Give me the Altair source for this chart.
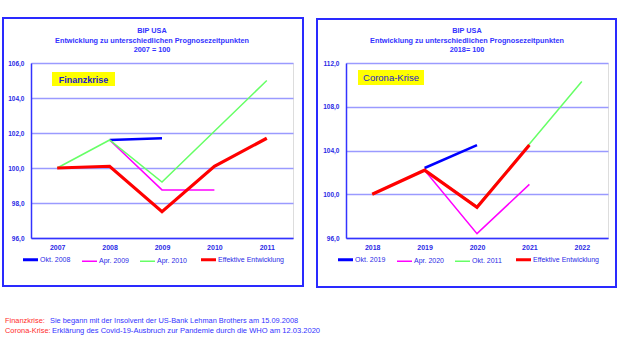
import altair as alt
import pandas as pd

FONT = "Liberation Sans"
BLUE_TXT = "#2a2ae6"
SERIES_COLORS = ["#0000ff", "#ff00ff", "#66ff66", "#ff0000"]
SERIES_WIDTHS = [2.5, 1.5, 1.5, 3.2]

# ---- Finanzkrise ----
years_fin = ["2007", "2008", "2009", "2010", "2011"]
names_fin = ["Okt. 2008", "Apr. 2009", "Apr. 2010", "Effektive Entwicklung"]
okt2008 = [None, 101.6, 101.7, None, None]
apr2009 = [None, 101.6, 98.75, 98.75, None]
apr2010 = [100.0, 101.6, 99.2, 102.1, 105.0]
eff_fin = [100.0, 100.1, 97.5, 100.1, 101.7]
yticks_fin = [96, 98, 100, 102, 104, 106]

# ---- Corona-Krise ----
years_cor = ["2018", "2019", "2020", "2021", "2022"]
names_cor = ["Okt. 2019", "Apr. 2020", "Okt. 2011", "Effektive Entwicklung"]
okt2019 = [None, 102.4, 104.5, None, None]
apr2020 = [None, 102.2, 96.4, 100.9, None]
okt2011 = [100.0, 102.2, 98.9, 104.6, 110.3]
eff_cor = [100.0, 102.2, 98.8, 104.5, None]
yticks_cor = [96, 100, 104, 108, 112]

title_fin = ["BIP USA", "Entwicklung zu unterschiedlichen Prognosezeitpunkten", "2007 = 100"]
title_cor = ["BIP USA", "Entwicklung zu unterschiedlichen Prognosezeitpunkten", "2018= 100"]

foot_red = ["Finanzkrise:", "Corona-Krise:"]
foot_blue = ["Sie begann mit der Insolvent der US-Bank Lehman Brothers am 15.09.2008",
             "Erklärung  des Covid-19-Ausbruch zur Pandemie durch die WHO am 12.03.2020"]

W, H = 262, 175


def long_df(years, names, series):
    rows = []
    for n, w, vals in zip(names, SERIES_WIDTHS, series):
        for y, v in zip(years, vals):
            if v is not None:
                rows.append({"Jahr": y, "Wert": v, "Serie": n, "w": w})
    return pd.DataFrame(rows)


def panel(years, names, series, ydom, yticks, title, box_text, box_bold, box, frame, legend_x, footer=False):
    df = long_df(years, names, series)
    leg = alt.Legend(orient="none", legendX=legend_x, legendY=193, direction="horizontal",
                     columns=4, title=None, symbolType="stroke", symbolSize=225,
                     labelFont=FONT, labelFontSize=7, labelColor=BLUE_TXT,
                     columnPadding=8, labelOffset=6, padding=0,
                     symbolStrokeWidth=alt.ExprRef(
                         expr="datum.index === 0 || datum.index === 3 ? 3 : 1.5"))
    lines = alt.Chart(df).mark_line(strokeCap="butt", strokeJoin="miter").encode(
        x=alt.X("Jahr:N", sort=years, scale=alt.Scale(domain=years), title=None,
                axis=alt.Axis(labelAngle=0, ticks=False, labelPadding=5, labelFont=FONT,
                              labelFontWeight="bold", labelFontSize=7, labelColor=BLUE_TXT,
                              domainColor="#3333ff", domainWidth=1.5, grid=False)),
        y=alt.Y("Wert:Q", scale=alt.Scale(domain=ydom, nice=False, zero=False), title=None,
                axis=alt.Axis(values=yticks, ticks=False, labelPadding=7, labelFont=FONT,
                              labelFontWeight="bold", labelFontSize=6.5, labelColor=BLUE_TXT,
                              labelExpr="replace(format(datum.value, '.1f'), '.', ',')",
                              domainColor="#3333ff", domainWidth=1.5,
                              grid=True, gridColor="#9a9aff", gridWidth=1.5)),
        color=alt.Color("Serie:N", scale=alt.Scale(domain=names, range=SERIES_COLORS), legend=leg),
        strokeWidth=alt.StrokeWidth("w:Q", scale=None, legend=None),
    )
    one = pd.DataFrame({"t": [box_text]})
    fx1, fx2, fy1, fy2 = frame
    border = alt.Chart(one).mark_rect(filled=False, stroke="#2a2aff", strokeWidth=2).encode(
        x=alt.value(fx1), x2=alt.value(fx2), y=alt.value(fy1), y2=alt.value(fy2))
    bx1, bx2, by1, by2 = box
    ybox = alt.Chart(one).mark_rect(fill="#ffff00").encode(
        x=alt.value(bx1), x2=alt.value(bx2), y=alt.value(by1), y2=alt.value(by2))
    btext = alt.Chart(one).mark_text(font=FONT, fontSize=9.5 if not box_bold else 9,
                                     fontWeight="bold" if box_bold else "normal",
                                     color="#2222cc").encode(
        x=alt.value((bx1 + bx2) / 2), y=alt.value((by1 + by2) / 2 + 0.5), text="t:N")
    tdf = pd.DataFrame({"t": title})
    layers = [border, ybox, lines, btext]
    for i, ty in enumerate([-32, -22, -13.5]):
        layers.append(alt.Chart(tdf.iloc[[i]]).mark_text(
            font=FONT, fontSize=7.3, fontWeight="bold", color="#3333ff").encode(
            x=alt.value(121), y=alt.value(ty), text="t:N"))
    if footer:
        fr = pd.DataFrame({"t": foot_red})
        fb = pd.DataFrame({"t": foot_blue})
        blue_sizes = [7.4, 7.55]
        for i in range(2):
            layers.append(alt.Chart(fr.iloc[[i]]).mark_text(font=FONT, fontSize=7.4, align="left",
                                                            color="#ff2a2a").encode(
                x=alt.value(-26), y=alt.value(257.5 + 10 * i), text="t:N"))
            layers.append(alt.Chart(fb.iloc[[i]]).mark_text(font=FONT, fontSize=blue_sizes[i],
                                                            align="left", color="#3333ff").encode(
                x=alt.value(19 + 2 * i), y=alt.value(257.5 + 10 * i), text="t:N"))
    return alt.layer(*layers).properties(width=W, height=H)


left = panel(years_fin, names_fin, [okt2008, apr2009, apr2010, eff_fin], [96, 106], yticks_fin,
             title_fin, "Finanzkrise", True, (21, 84, 9, 23), (-28, 272, -45, 223), -4, footer=True)
right = panel(years_cor, names_cor, [okt2019, apr2020, okt2011, eff_cor], [96, 112], yticks_cor,
              title_cor, "Corona-Krise", False, (12, 78, 7, 22), (-29, 270, -44, 224), -4)

chart = alt.hconcat(left, right, spacing=53, bounds="flush").resolve_scale(
    color="independent", x="independent", y="independent"
).resolve_legend(color="independent").properties(
    padding={"left": 1, "top": 16, "right": 0, "bottom": 0}
).configure_view(fill="#ebebeb", stroke="#9a9aff", strokeWidth=1.5).configure(background="white")

chart.save("out.html", embed_options={"renderer": "svg", "actions": False})
